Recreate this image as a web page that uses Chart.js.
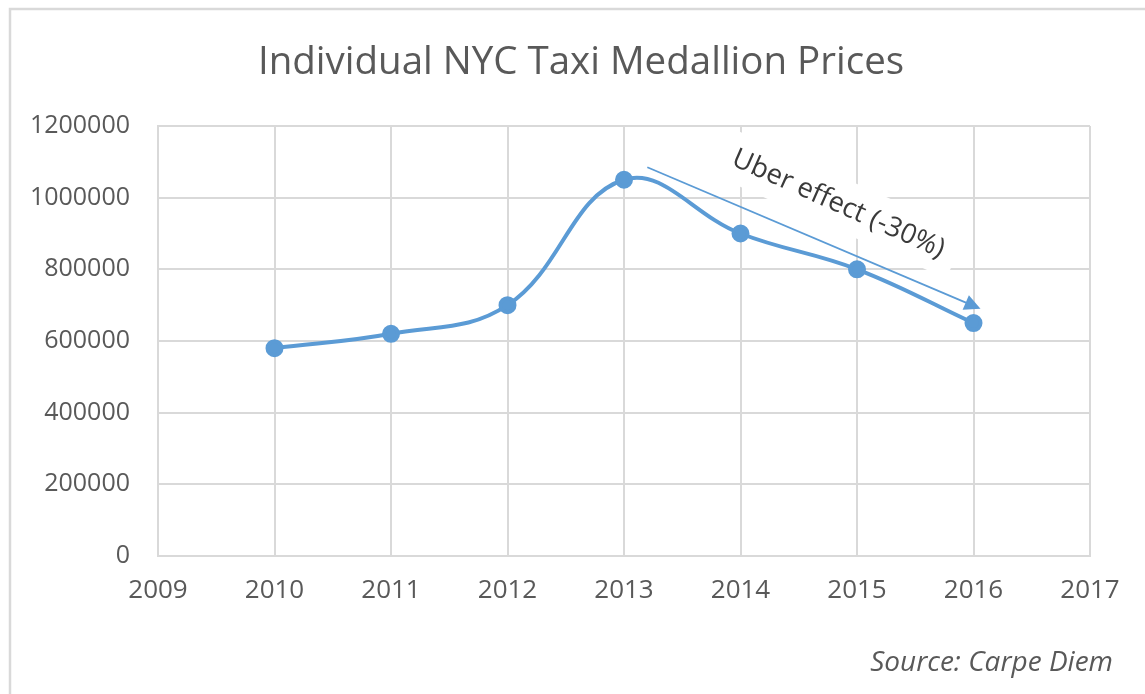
<!DOCTYPE html>
<html>
<head>
<meta charset="utf-8">
<script src="https://cdn.jsdelivr.net/npm/chart.js@4/dist/chart.umd.min.js"></script>
<style>
  html, body { margin: 0; padding: 0; background: #fff; }
  #wrap { width: 1145px; height: 694px; position: relative; }
</style>
</head>
<body>
<div id="wrap"><canvas id="chart"></canvas></div>
<script>
  // values
  const years = [2010, 2011, 2012, 2013, 2014, 2015, 2016];
  const prices = [580000, 620000, 700000, 1050000, 900000, 800000, 650000];
  const xMin = 2009, xMax = 2017;
  const yMax = 1200000, yStep = 200000;

  // annotation in data units
  const arrowFrom = [2013.2, 1085000];
  const arrowTo = [2016.06, 690000];
  const noteText = 'Uber effect (-30%)';
  const noteAt = [2014.84, 982000];
  const noteAngle = 24;

  const blue = '#5b9bd5';
  const gridCol = '#d9d9d9';
  const textCol = '#595959';
  const font = "'Open Sans', sans-serif";

  // frame, white box behind the note, arrow and note text
  const notePlugin = {
    id: 'note',
    afterLayout(chart) {
      // title sits a bit right of the canvas centre in the original
      if (chart.titleBlock) chart.titleBlock.left += 39;
    },
    beforeDraw(chart) {
      const ctx = chart.ctx;
      ctx.save();
      ctx.strokeStyle = gridCol;
      ctx.lineWidth = 2.5;
      ctx.beginPath();
      ctx.moveTo(10, chart.height);
      ctx.lineTo(10, 9);
      ctx.lineTo(chart.width, 9);
      ctx.stroke();
      ctx.restore();
    },
    beforeDatasetsDraw(chart) {
      const { ctx, scales: { x, y } } = chart;
      const cx = x.getPixelForValue(noteAt[0]);
      const cy = y.getPixelForValue(noteAt[1]);
      ctx.save();
      ctx.font = '27.5px ' + font;
      const w = ctx.measureText(noteText).width;
      ctx.translate(cx, cy);
      ctx.rotate(noteAngle * Math.PI / 180);
      ctx.fillStyle = '#fff';
      ctx.fillRect(-w / 2 - 14, -26, w + 28, 50);
      ctx.restore();
    },
    afterDatasetsDraw(chart) {
      const { ctx, scales: { x, y } } = chart;
      const x1 = x.getPixelForValue(arrowFrom[0]), y1 = y.getPixelForValue(arrowFrom[1]);
      const x2 = x.getPixelForValue(arrowTo[0]), y2 = y.getPixelForValue(arrowTo[1]);
      const a = Math.atan2(y2 - y1, x2 - x1);
      ctx.save();
      ctx.strokeStyle = blue;
      ctx.fillStyle = blue;
      ctx.lineWidth = 1.8;
      ctx.beginPath();
      ctx.moveTo(x1, y1);
      ctx.lineTo(x2 - 12 * Math.cos(a), y2 - 12 * Math.sin(a));
      ctx.stroke();
      ctx.beginPath();
      ctx.moveTo(x2, y2);
      ctx.lineTo(x2 - 16 * Math.cos(a) + 8 * Math.sin(a), y2 - 16 * Math.sin(a) - 8 * Math.cos(a));
      ctx.lineTo(x2 - 16 * Math.cos(a) - 8 * Math.sin(a), y2 - 16 * Math.sin(a) + 8 * Math.cos(a));
      ctx.closePath();
      ctx.fill();

      ctx.translate(x.getPixelForValue(noteAt[0]), y.getPixelForValue(noteAt[1]));
      ctx.rotate(noteAngle * Math.PI / 180);
      ctx.font = '27.5px ' + font;
      ctx.fillStyle = '#3a3a3a';
      ctx.textAlign = 'center';
      ctx.textBaseline = 'middle';
      ctx.fillText(noteText, 0, 0);
      ctx.restore();
    }
  };

  const points = years.map((yr, i) => ({ x: yr, y: prices[i] }));

  new Chart(document.getElementById('chart'), {
    type: 'line',
    data: {
      datasets: [{
        label: 'Medallion price',
        data: points,
        borderColor: blue,
        backgroundColor: blue,
        borderWidth: 4,
        pointRadius: 7,
        pointHoverRadius: 7,
        tension: 0.4,
        fill: false,
      }],
    },
    options: {
      responsive: true,
      maintainAspectRatio: false,
      animation: false,
      layout: { padding: { left: 10, right: 32, top: 0, bottom: 0 } },
      plugins: {
        legend: { display: false },
        tooltip: { enabled: false },
        title: {
          display: true,
          text: 'Individual NYC Taxi Medallion Prices',
          color: textCol,
          font: { family: font, size: 38.5, weight: 'normal', lineHeight: 1.2 },
          padding: { top: 40, bottom: 39.8 },
        },
        subtitle: {
          display: true,
          position: 'bottom',
          align: 'end',
          text: 'Source: Carpe Diem',
          color: textCol,
          font: { family: font, size: 28, style: 'italic', weight: 'normal', lineHeight: 1.2 },
          padding: { top: 10, bottom: 14.2 },
        },
      },
      scales: {
        x: {
          type: 'linear',
          min: xMin,
          max: xMax,
          ticks: {
            stepSize: 1,
            color: textCol,
            font: { family: font, size: 26 },
            padding: 19,
            callback: v => String(v),
          },
          grid: { color: gridCol, lineWidth: 2, drawTicks: false },
          border: { color: gridCol, width: 2 },
          afterFit: s => { s.height = 80.2; },
        },
        y: {
          min: 0,
          max: yMax,
          ticks: {
            stepSize: yStep,
            color: textCol,
            font: { family: font, size: 25 },
            padding: 28,
            callback: v => String(v),
          },
          grid: { color: gridCol, lineWidth: 2, drawTicks: false },
          border: { color: gridCol, width: 2 },
          afterFit: s => { s.width = 148; },
        },
        yr: {
          position: 'right',
          grid: { display: false },
          ticks: { display: false },
          border: { display: false },
          afterFit: s => { s.width = 23; },
        },
      },
    },
    plugins: [notePlugin],
  });
</script>
</body>
</html>
